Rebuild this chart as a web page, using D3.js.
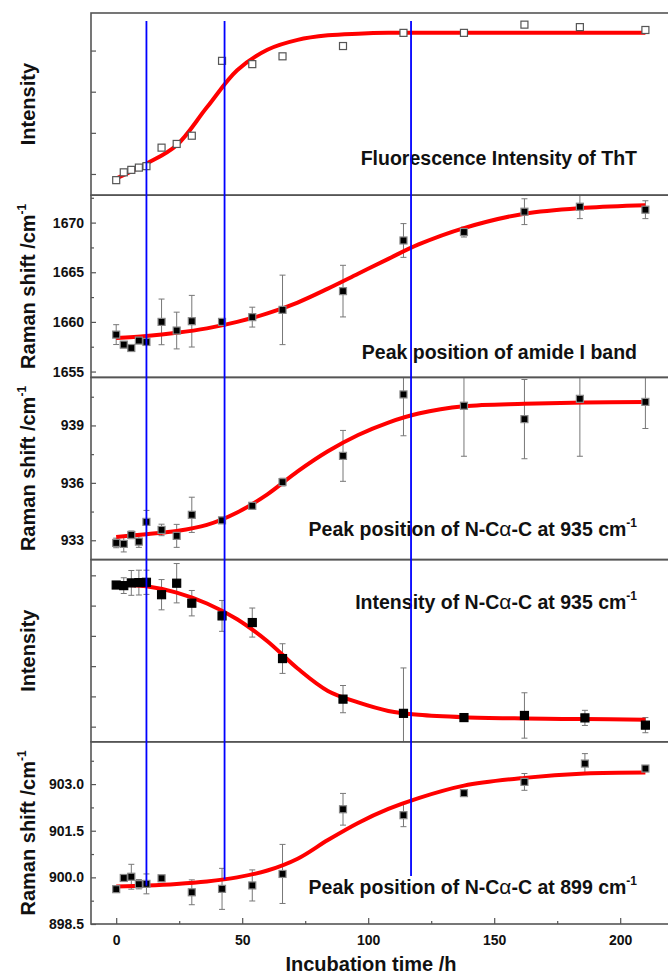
<!DOCTYPE html>
<html>
<head>
<meta charset="utf-8">
<script src="https://d3js.org/d3.v7.min.js"></script>
<style>
  body { margin: 0; background: #fff; }
  text { font-family: Arial, "Liberation Sans", sans-serif; font-weight: bold; fill: #111; }
  .frame { fill: none; stroke: #555; stroke-width: 1.6px; }
  .tick line { stroke: #555; stroke-width: 1.2px; }
  .err { stroke: #777; stroke-width: 1px; fill: none; }
  .fit { fill: none; stroke: #ff0000; stroke-width: 4px; }
  .marker line { stroke: #0000ff; stroke-width: 1.8px; }
</style>
</head>
<body>
<div id="chart"></div>
<script>

// sampling times (h)
var timeA = [0, 3, 6, 9, 12, 18, 24, 30, 42, 54, 66, 90, 114, 138, 162, 184, 210];
var timeB = [0, 3, 6, 9, 12, 18, 24, 30, 42, 54, 66, 90, 114, 138, 162, 186, 210];
var timeC = [0, 3, 6, 9, 12, 18, 30, 42, 54, 66, 90, 114, 138, 162, 186, 210];

// ThT fluorescence (arb. units)
var thtValues = [0.85, 1.04, 1.10, 1.155, 1.19, 1.64, 1.73, 1.93, 3.75, 3.67, 3.86, 4.11, 4.43, 4.43, 4.63, 4.57, 4.50];

// amide I peak position
var amideValues = [1658.72, 1657.71, 1657.37, 1658.12, 1657.98, 1660.0, 1659.13, 1660.07, 1660.0, 1660.48, 1661.21, 1663.1, 1668.2, 1669.05, 1671.1, 1671.6, 1671.3];
var amideErrors = [1.0, 0.3, 0.25, 0.3, 0.3, 2.3, 1.85, 2.6, 0.2, 1.0, 3.5, 2.6, 1.7, 0.5, 1.3, 1.2, 0.9];

// N-Ca-C 935 peak position
var pos935Values = [932.86, 932.81, 933.28, 932.93, 933.96, 933.54, 933.23, 934.33, 934.04, 934.80, 936.04, 937.41, 940.62, 940.03, 939.33, 940.39, 940.23];
var pos935Errors = [0.25, 0.42, 0.2, 0.3, 0.6, 0.3, 0.6, 0.92, 0.1, 0.1, 0.2, 1.33, 2.16, 2.64, 2.07, 3.0, 1.39];

// N-Ca-C 935 intensity (arb. units)
var int935Values = [4.68, 4.66, 4.75, 4.76, 4.77, 4.36, 4.74, 4.08, 3.66, 3.44, 2.25, 0.91, 0.44, 0.30, 0.37, 0.29, 0.05];
var int935Errors = [0.05, 0.26, 0.41, 0.41, 0.4, 0.5, 0.65, 0.42, 0.51, 0.48, 0.49, 0.45, 1.5, 0.08, 0.75, 0.25, 0.25];

// N-Ca-C 899 peak position
var pos899Values = [899.62, 899.98, 900.02, 899.78, 899.79, 899.97, 899.52, 899.63, 899.74, 900.11, 902.19, 902.0, 902.71, 903.07, 903.66, 903.50];
var pos899Errors = [0.05, 0.08, 0.4, 0.15, 0.32, 0.08, 0.4, 0.66, 0.5, 0.95, 0.51, 0.37, 0.08, 0.27, 0.32, 0.08];

var fitTimes = [0, 12, 24, 36, 48, 60, 72, 84, 96, 108, 120, 138, 162, 186, 210];
var thtFit    = [0.89, 1.25, 1.70, 2.62, 3.52, 4.02, 4.26, 4.37, 4.41, 4.43, 4.43, 4.43, 4.43, 4.43, 4.43];
var amideFit  = [1658.38, 1658.58, 1658.9, 1659.35, 1660.0, 1660.85, 1661.95, 1663.35, 1664.85, 1666.35, 1667.8, 1669.45, 1670.9, 1671.5, 1671.76];
var pos935Fit = [933.17, 933.32, 933.48, 933.8, 934.45, 935.4, 936.6, 937.65, 938.5, 939.15, 939.62, 940.0, 940.13, 940.2, 940.23];
var int935Fit = [4.70, 4.64, 4.43, 4.07, 3.55, 2.82, 1.92, 1.18, 0.80, 0.52, 0.39, 0.31, 0.27, 0.25, 0.23];
var pos899Fit = [899.71, 899.74, 899.79, 899.87, 900.0, 900.22, 900.6, 901.2, 901.75, 902.2, 902.55, 902.95, 903.2, 903.34, 903.37];

// vertical markers
var markerTimes = [12, 43, 117];
var markerTop = 4.72;                       // in ThT units
var markerEnds = [899.73, 899.93, 900.04];  // in 899 peak units

var xTicks = [0, 50, 100, 150, 200];
var xMinorTicks = [25, 75, 125, 175];

var width = 668, height = 975;
var plotLeft = 91, plotRight = 671, plotTop = 13, plotBottom = 924;
var ph = (plotBottom - plotTop) / 5;

var panels = [
  { times: timeA, values: thtValues, errors: null, fit: thtFit, open: true,
    domain: [0.484, 4.913], ticks: [1, 2, 3, 4], minor: [], labels: false,
    ytitle: "Intensity", sup: false,
    note: [["Fluorescence Intensity of ThT"]], noteY: 165 },
  { times: timeA, values: amideValues, errors: amideErrors, fit: amideFit,
    domain: [1654.41, 1672.76], ticks: [1655, 1660, 1665, 1670], minor: [1657.5, 1662.5, 1667.5, 1672.5], labels: true, fmt: d3.format("d"),
    ytitle: "Raman shift /cm", sup: true,
    note: [["Peak position of amide I band"]], noteY: 359 },
  { times: timeA, values: pos935Values, errors: pos935Errors, fit: pos935Fit,
    domain: [931.99, 941.51], ticks: [933, 936, 939], minor: [934.5, 937.5, 940.5], labels: true, fmt: d3.format("d"),
    ytitle: "Raman shift /cm", sup: true,
    note: [["Peak position of N-C"], ["α", "g"], ["-C at 935 cm"], ["-1", "s"]], noteY: 536 },
  { times: timeB, values: int935Values, errors: int935Errors, fit: int935Fit, big: true,
    domain: [-0.5, 5.52], ticks: [0, 1, 2, 3, 4, 5], minor: [], labels: false,
    ytitle: "Intensity", sup: false,
    note: [["Intensity of N-C"], ["α", "g"], ["-C at 935 cm"], ["-1", "s"]], noteY: 609 },
  { times: timeC, values: pos899Values, errors: pos899Errors, fit: pos899Fit,
    domain: [898.5, 904.36], ticks: [898.5, 900, 901.5, 903], minor: [899.25, 900.75, 902.25, 903.75], labels: true, fmt: d3.format(".1f"),
    ytitle: "Raman shift /cm", sup: true,
    note: [["Peak position of N-C"], ["α", "g"], ["-C at 899 cm"], ["-1", "s"]], noteY: 894 }
];

var svg = d3.select("#chart").append("svg")
    .attr("width", width)
    .attr("height", height);

var x = d3.scaleLinear().domain([-10, 220]).range([plotLeft, 670.6]);

var line = d3.line().curve(d3.curveCatmullRom.alpha(0.5));

panels.forEach(function(p, i) {
  var y0 = plotTop + i * ph, y1 = y0 + ph;
  var y = d3.scaleLinear().domain(p.domain).range([y1, y0]);
  p.y = y;

  svg.append("clipPath").attr("id", "clip" + i)
    .append("rect").attr("x", plotLeft).attr("y", y0).attr("width", plotRight - plotLeft).attr("height", ph);

  var g = svg.append("g");

  // y ticks (inward)
  var ax = d3.axisLeft(y).tickValues(p.ticks).tickSize(-5).tickSizeOuter(0).tickPadding(7)
      .tickFormat(p.labels ? p.fmt : "");
  var ag = g.append("g").attr("transform", "translate(" + plotLeft + ",0)").call(ax);
  ag.select(".domain").remove();
  ag.selectAll("text").style("font-size", "14px").style("font-family", "Arial, 'Liberation Sans', sans-serif").attr("fill", "#111");
  if (p.minor.length) {
    var mg = g.append("g").attr("transform", "translate(" + plotLeft + ",0)")
        .call(d3.axisLeft(y).tickValues(p.minor).tickSize(-3).tickSizeOuter(0).tickFormat(""));
    mg.select(".domain").remove();
  }

  // y title
  var t = g.append("text")
      .attr("transform", "translate(35," + ((y0 + y1) / 2) + ") rotate(-90)")
      .attr("text-anchor", "middle")
      .style("font-size", "20px")
      .text(p.ytitle);
  if (p.sup) t.append("tspan").attr("dy", -9).style("font-size", "12px").text("-1");

  // annotation
  var nt = g.append("text").attr("x", 637).attr("y", p.noteY)
      .attr("text-anchor", "end").style("font-size", "19.5px");
  p.note.forEach(function(part) {
    var s = nt.append("tspan").text(part[0]);
    if (part[1] === "g") s.style("font-weight", "normal").style("font-size", "21px");
    if (part[1] === "s") s.attr("dy", -9).style("font-size", "12px");
  });

  var c = g.append("g").attr("clip-path", "url(#clip" + i + ")");

  // error bars
  if (p.errors) {
    p.times.forEach(function(tm, k) {
      var e = p.errors[k], v = p.values[k], cx = x(tm);
      var ya = y(v + e), yb = y(v - e);
      c.append("path").attr("class", "err")
        .attr("d", "M" + cx + "," + ya + "V" + yb +
                   "M" + (cx - 3) + "," + ya + "H" + (cx + 3) +
                   "M" + (cx - 3) + "," + yb + "H" + (cx + 3));
    });
  }

  // fitted curve
  c.append("path").attr("class", "fit")
    .attr("d", line(fitTimes.map(function(tm, k) { return [x(tm), y(p.fit[k])]; })));

  // points
  var s = p.big ? 8 : 7;
  c.selectAll("rect.pt").data(p.times).enter().append("rect")
    .attr("class", "pt")
    .attr("x", function(d) { return x(d) - s / 2; })
    .attr("y", function(d, k) { return y(p.values[k]) - s / 2; })
    .attr("width", s).attr("height", s)
    .attr("fill", p.open ? "#fff" : "#000")
    .attr("stroke", p.open ? "#555" : (p.big ? "#000" : "#888"))
    .attr("stroke-width", 1.2);

  // frame
  g.append("rect").attr("class", "frame")
    .attr("x", plotLeft).attr("y", y0).attr("width", plotRight - plotLeft).attr("height", ph);
});

// x axis at the bottom
var xg = svg.append("g").attr("transform", "translate(0," + plotBottom + ")")
    .call(d3.axisBottom(x).tickValues(xTicks).tickSize(-6).tickSizeOuter(0).tickPadding(11));
xg.select(".domain").remove();
xg.selectAll("text").style("font-size", "14px").style("font-family", "Arial, 'Liberation Sans', sans-serif").attr("fill", "#111");
var xm = svg.append("g").attr("transform", "translate(0," + plotBottom + ")")
    .call(d3.axisBottom(x).tickValues(xMinorTicks).tickSize(-3).tickSizeOuter(0).tickFormat(""));
xm.select(".domain").remove();

svg.append("text")
  .attr("x", 371).attr("y", 971)
  .attr("text-anchor", "middle")
  .style("font-size", "20px")
  .text("Incubation time /h");

// vertical blue markers
var top1 = panels[0].y, bot5 = panels[4].y;
svg.append("g").attr("class", "marker").selectAll("line")
  .data(markerTimes).enter().append("line")
    .attr("x1", function(d) { return x(d); })
    .attr("x2", function(d) { return x(d); })
    .attr("y1", top1(markerTop))
    .attr("y2", function(d, k) { return bot5(markerEnds[k]); });

</script>
</body>
</html>
